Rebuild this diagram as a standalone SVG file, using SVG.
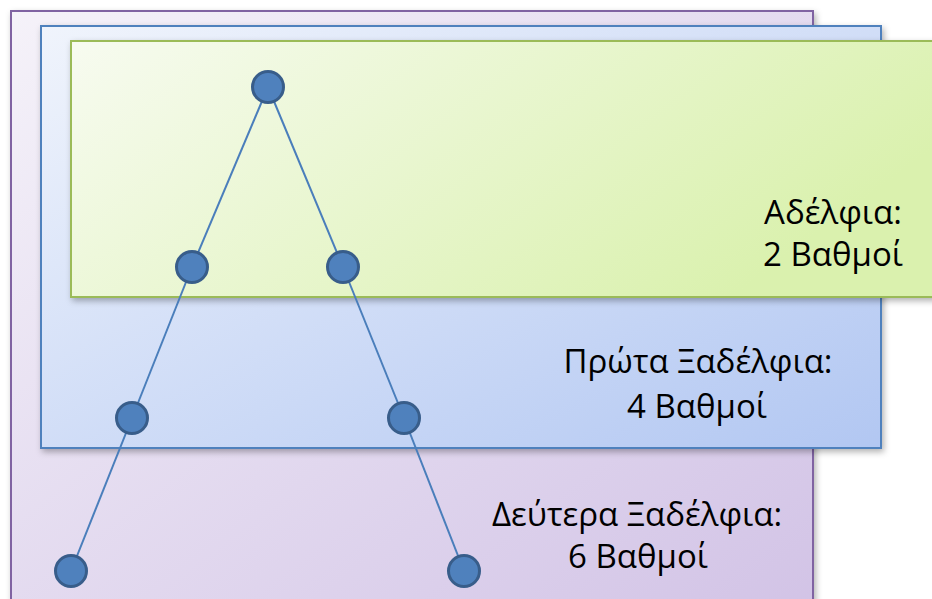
<svg xmlns="http://www.w3.org/2000/svg" width="932" height="599" viewBox="0 0 932 599">
<defs>
<linearGradient id="gp" x1="0" y1="0" x2="1" y2="1"><stop offset="0" stop-color="#F5F2F9"/><stop offset="1" stop-color="#D2C3E6"/></linearGradient>
<linearGradient id="gb" x1="0" y1="0" x2="1" y2="1"><stop offset="0" stop-color="#F0F4FC"/><stop offset="1" stop-color="#B2C7F2"/></linearGradient>
<linearGradient id="gg" x1="0" y1="0" x2="1" y2="0.4"><stop offset="0" stop-color="#F7FBF0"/><stop offset="1" stop-color="#DAF1AE"/></linearGradient>
<filter id="sh" x="-5%" y="-5%" width="110%" height="115%"><feDropShadow dx="2" dy="3" stdDeviation="3" flood-color="#000" flood-opacity="0.3"/></filter>
</defs>
<style>
.lbl{font-family:"Open Sans","Noto Sans","DejaVu Sans",sans-serif;font-size:33px;fill:#000;text-anchor:middle}
.node{fill:#4F81BD;stroke:#385D8A;stroke-width:3}
.edge{stroke:#4A7EBB;stroke-width:2;fill:none}
</style>
<rect width="932" height="599" fill="#fff"/>
<g id="second-cousins">
<rect x="11" y="11" width="802" height="600" fill="url(#gp)" stroke="#8064A2" stroke-width="2" filter="url(#sh)"/>
<text class="lbl" x="637" y="526">Δεύτερα Ξαδέλφια:</text>
<text class="lbl" x="638" y="568">6 Βαθμοί</text>
</g>
<g id="first-cousins">
<rect x="41" y="26" width="840" height="422" fill="url(#gb)" stroke="#4F81BD" stroke-width="2" filter="url(#sh)"/>
<text class="lbl" x="698" y="373">Πρώτα Ξαδέλφια:</text>
<text class="lbl" x="697" y="418">4 Βαθμοί</text>
</g>
<g id="siblings">
<rect x="71" y="41" width="870" height="256" fill="url(#gg)" stroke="#9BBB59" stroke-width="2" filter="url(#sh)"/>
<text class="lbl" x="833" y="224">Αδέλφια:</text>
<text class="lbl" x="833" y="266">2 Βαθμοί</text>
</g>
<g id="connectors">
<line class="edge" x1="268" y1="87" x2="192" y2="267"/>
<line class="edge" x1="268" y1="87" x2="343" y2="267"/>
<line class="edge" x1="192" y1="267" x2="132" y2="418"/>
<line class="edge" x1="343" y1="267" x2="404" y2="418"/>
<line class="edge" x1="132" y1="418" x2="71" y2="571"/>
<line class="edge" x1="404" y1="418" x2="464" y2="571"/>
</g>
<g id="n1"><circle class="node" cx="268" cy="87" r="15.5"/></g>
<g id="n2"><circle class="node" cx="192" cy="267" r="15.5"/></g>
<g id="n3"><circle class="node" cx="343" cy="267" r="15.5"/></g>
<g id="n4"><circle class="node" cx="132" cy="418" r="15.5"/></g>
<g id="n5"><circle class="node" cx="404" cy="418" r="15.5"/></g>
<g id="n6"><circle class="node" cx="71" cy="571" r="15.5"/></g>
<g id="n7"><circle class="node" cx="464" cy="571" r="15.5"/></g>
</svg>
